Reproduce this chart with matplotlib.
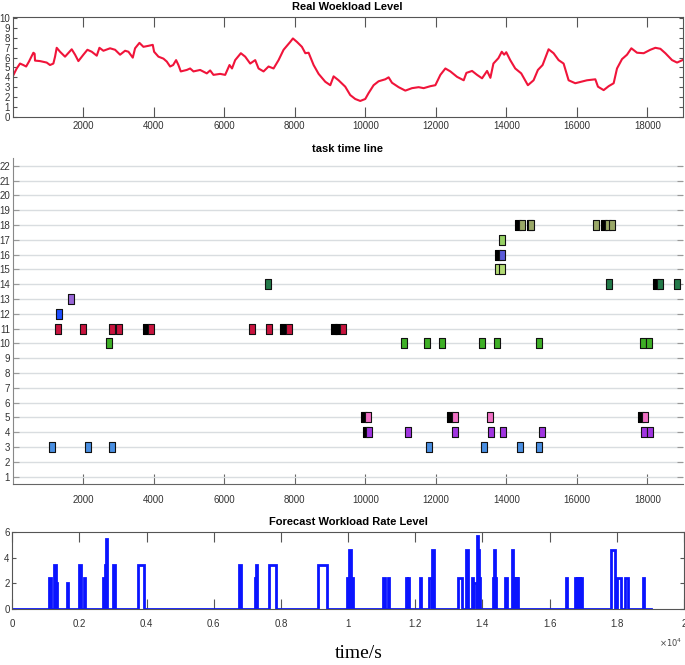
import matplotlib
matplotlib.use('Agg')
import matplotlib.pyplot as plt
import numpy as np

plt.rcParams['font.family'] = ['Liberation Sans Narrow', 'Liberation Sans', 'DejaVu Sans']

# ---------------- data: real workload level ----------------
work_t = [0, 112, 206, 300, 380, 460, 585, 620, 632, 774, 963, 1057, 1152, 1200, 1247, 1341, 1483,
          1673, 1768, 1862, 2004, 2118, 2241, 2383, 2459, 2572, 2761, 2903, 3045, 3187, 3282, 3405,
          3470, 3594, 3707, 3849, 3972, 4010, 4133, 4275, 4370, 4464, 4550, 4634, 4700, 4767, 4937,
          5032, 5127, 5316, 5505, 5600, 5694, 5884, 6026, 6149, 6220, 6310, 6471, 6594, 6736, 6878,
          6973, 7115, 7257, 7399, 7541, 7683, 7872, 7948, 8062, 8203, 8300, 8393, 8535, 8677, 8866,
          9008, 9102, 9244, 9386, 9432, 9574, 9716, 9858, 10000, 10095, 10237, 10379, 10568, 10663,
          10758, 10947, 11137, 11326, 11515, 11657, 11847, 11989, 12131, 12273, 12415, 12604, 12793,
          12869, 13030, 13172, 13314, 13456, 13550, 13636, 13778, 13873, 13940, 14000, 14113, 14255,
          14425, 14614, 14775, 14898, 15031, 15201, 15343, 15485, 15627, 15769, 15958, 16129, 16290,
          16527, 16602, 16763, 16905, 17047, 17142, 17284, 17426, 17549, 17710, 17899, 18088, 18230,
          18372, 18514, 18703, 18845, 19000]
work_v = [4.1, 4.9, 5.4, 5.25, 5.1, 5.6, 6.5, 6.4, 5.7, 5.65, 5.5, 5.25, 5.4, 6.1, 7.0, 6.6, 6.1,
          6.85, 6.3, 5.65, 6.3, 6.8, 6.6, 6.2, 7.0, 6.7, 6.95, 6.8, 6.3, 6.7, 6.6, 6.0,
          6.95, 7.5, 7.1, 7.2, 7.3, 6.6, 6.1, 5.9, 5.6, 5.1, 5.25, 5.75, 5.25, 4.6, 4.75,
          4.9, 4.6, 4.75, 4.4, 4.7, 4.25, 4.35, 4.25, 5.25, 4.9, 5.75, 6.45, 6.1, 5.4, 5.75,
          4.9, 4.6, 5.1, 4.9, 5.75, 6.8, 7.6, 7.95, 7.6, 7.1, 6.45, 6.5, 5.25, 4.35, 3.55,
          3.2, 4.1, 3.7, 3.2, 3.05, 2.2, 1.8, 1.6, 1.8, 2.4, 3.2, 3.6, 3.8, 4.0,
          3.45, 3.0, 2.65, 2.9, 3.0, 2.9, 3.1, 3.2, 4.25, 4.9, 4.6, 4.05, 3.7,
          4.45, 4.65, 4.25, 3.9, 4.65, 3.95, 5.4, 5.95, 6.6, 6.3, 6.55, 5.75, 4.9,
          4.4, 3.2, 3.7, 4.75, 5.25, 6.85, 6.45, 5.75, 5.4, 3.7, 3.4, 3.55, 3.7,
          3.8, 3.05, 2.7, 3.1, 3.4, 4.9, 5.85, 6.3, 6.95, 6.5, 6.45, 6.8, 7.0,
          6.9, 6.45, 5.75, 5.5, 5.75]

# ---------------- data: task time line ----------------
task_rows = [3, 4, 5, 10, 11, 12, 13, 14, 15, 16, 17, 18]
task_colors = ['#4a8fe2', '#a035e0', '#f070c4', '#3eaf26', '#c8143e', '#1f4fff',
               '#9866d6', '#237a4a', '#b2da74', '#5a5ad8', '#96d064', '#9aa868']
row3_times = [1120, 2136, 2808, 11811, 13373, 14386, 14934]
row4_times = [10099, 11207, 12532, 13554, 13918, 15010, 17900, 18090]
row5_times = [10071, 12541, 13540, 17949]
row10_times = [2738, 11093, 11746, 12178, 13313, 13727, 14934, 17878, 18054]
row11_times = [1270, 2003, 2808, 3016, 3919, 6801, 7280, 7823, 9375]
row12_times = [1313]
row13_times = [1648]
row14_times = [7255, 16927, 18375, 18849]
row15_times = [13762, 13889]
row16_times = [13889]
row17_times = [13870]
row18_times = [14443, 14713, 16544, 16884, 17012]
task_times = [row3_times, row4_times, row5_times, row10_times, row11_times, row12_times,
              row13_times, row14_times, row15_times, row16_times, row17_times, row18_times]
# black (overlapped) markers just before some tasks
shadow_rows = [5, 5, 5, 11, 11, 11, 11, 14, 16, 18, 18, 18, 4]
shadow_times = [9957, 12413, 17828, 3769, 7658, 9120, 9220, 18247, 13776, 14329, 14660, 16785, 10020]

# ---------------- data: forecast workload rate ----------------
pulse_start = [1090, 1250, 1290, 1630, 1985, 2120, 2710, 2750, 2780, 3000, 3740, 6760, 7240, 7265,
               7650, 9110, 9980, 10030, 10080, 11050, 11185, 11720, 11780, 12140, 12420, 12500,
               13280, 13520, 13690, 13740, 13835, 13870, 13905, 14300, 14335, 14365, 14660, 14870,
               14940, 14995, 15040, 16490, 16750, 16800, 16860, 16920, 17820, 17840, 18010, 18250,
               18780]
pulse_end = [1140, 1290, 1330, 1670, 2035, 2160, 2750, 2780, 2830, 3050, 3920, 6810, 7265, 7300,
             7840, 9380, 10030, 10080, 10130, 11090, 11225, 11760, 11820, 12175, 12500, 12550,
             13390, 13565, 13720, 13830, 13870, 13905, 13930, 14335, 14365, 14395, 14730, 14920,
             14965, 15020, 15070, 16525, 16780, 16830, 16890, 16970, 17840, 17940, 18110, 18340,
             18820]
pulse_level = [2.4, 3.4, 2.0, 2.0, 3.4, 2.4, 2.4, 3.4, 5.4, 3.4, 3.4, 3.4, 2.4, 3.4,
               3.4, 3.4, 2.4, 4.6, 2.4, 2.4, 2.4, 2.4, 2.4, 2.4, 2.4, 4.6,
               2.4, 4.6, 2.4, 2.0, 5.7, 4.6, 2.4, 2.4, 4.6, 2.4, 2.4, 4.6,
               2.4, 2.4, 2.4, 2.4, 2.4, 2.4, 2.4, 2.4, 2.4, 4.6, 2.4, 2.4,
               2.4]
forecast_end = 19030

W, H = 685, 665
fig = plt.figure(figsize=(W / 100, H / 100), dpi=100)


def box(l, t, r, b):
    return [l / W, 1 - b / H, (r - l) / W, (b - t) / H]


tick_font = 7
spine_col = '#555555'

# ---------- top panel ----------
ax1 = fig.add_axes(box(12.75, 16.7, 682.5, 116.7))
ax1.plot(work_t, work_v, color='#f0143a', lw=1.5)
ax1.set_xlim(0, 19000)
ax1.set_ylim(0, 10.16)
ax1.set_xticks(np.arange(2000, 19000, 2000))
ax1.set_yticks(np.arange(0, 11, 1))
ax1.tick_params(axis='x', direction='in', length=7, top=True, pad=3, labelsize=tick_font,
                colors=spine_col, labelcolor='#333333')
ax1.tick_params(axis='y', direction='in', length=3, right=True, pad=2, labelsize=tick_font,
                colors=spine_col, labelcolor='#333333')
for s in ax1.spines.values():
    s.set_color(spine_col)
    s.set_linewidth(0.8)

# ---------- middle panel ----------
ax2 = fig.add_axes(box(12.75, 157.7, 682.5, 484))
ax2.set_xlim(0, 19000)
ax2.set_ylim(0.5, 22.55)
ax2.set_yticks(np.arange(1, 23, 1))
ax2.set_xticks(np.arange(2000, 19000, 2000))
ax2.yaxis.grid(True, color='#d9dde0', lw=1.0)
ax2.set_axisbelow(True)
ax2.spines['top'].set_visible(False)
ax2.spines['right'].set_visible(False)
ax2.spines['left'].set_color('#888888')
ax2.spines['bottom'].set_color('#666666')
ax2.tick_params(axis='x', direction='in', length=7, pad=8, labelsize=tick_font,
                colors='#666666', labelcolor='#333333')
ax2.tick_params(axis='y', direction='in', length=4, right=True, pad=2, labelsize=tick_font,
                colors='#999999', labelcolor='#333333')

rect_marker = [(-0.33, -0.5), (0.33, -0.5), (0.33, 0.5), (-0.33, 0.5), (-0.33, -0.5)]
for r, t in zip(shadow_rows, shadow_times):
    ax2.plot([t], [r], linestyle='none', marker=rect_marker, markersize=7,
             markerfacecolor='black', markeredgecolor='black', markeredgewidth=0.8, zorder=3)
for r, c, times in zip(task_rows, task_colors, task_times):
    ax2.plot(times, [r] * len(times), linestyle='none', marker=rect_marker, markersize=7,
             markerfacecolor=c, markeredgecolor='#111111', markeredgewidth=0.8, zorder=4)

# ---------- bottom panel ----------
xs, ys = [0.0], [0.0]
for s, e, h in zip(pulse_start, pulse_end, pulse_level):
    if s > xs[-1]:
        xs.append(s); ys.append(0.0)
    xs += [s, s, e, e]
    ys += [0.0, h, h, 0.0]
xs.append(forecast_end); ys.append(0.0)

ax3 = fig.add_axes(box(12.3, 531.7, 684, 609.3))
ax3.plot(xs, ys, color='#0a14ff', lw=2.0, solid_joinstyle='miter')
ax3.set_xlim(0, 20000)
ax3.set_ylim(0, 6)
ax3.set_yticks([0, 2, 4, 6])
xt = np.arange(0, 20001, 2000)
ax3.set_xticks(xt)
ax3.set_xticklabels(['0', '0.2', '0.4', '0.6', '0.8', '1', '1.2', '1.4', '1.6', '1.8', '2'])
ax3.tick_params(axis='x', direction='in', length=7, top=True, pad=7, labelsize=tick_font,
                colors=spine_col, labelcolor='#333333')
ax3.tick_params(axis='y', direction='in', length=3, right=True, pad=2, labelsize=tick_font,
                colors=spine_col, labelcolor='#333333')
for s in ax3.spines.values():
    s.set_color(spine_col)
    s.set_linewidth(0.8)

# ---------- texts ----------
fig.text(347 / W, 1 - 7.5 / H, 'Real Woekload Level', ha='center', va='center',
         fontsize=8, fontweight='bold')
fig.text(348 / W, 1 - 148.5 / H, 'task time line', ha='center', va='center',
         fontsize=8, fontweight='bold')
fig.text(348 / W, 1 - 522 / H, 'Forecast Workload Rate Level', ha='center', va='center',
         fontsize=8, fontweight='bold')
fig.text(682 / W, 1 - 643 / H, r'$\times10^{4}$', ha='right', va='center', fontsize=6,
         color='#444444')
fig.text(359 / W, 1 - 653 / H, 'time/s', ha='center', va='center', fontsize=14,
         family=['Liberation Serif', 'DejaVu Serif'])

fig.savefig('out.png', dpi=100)
